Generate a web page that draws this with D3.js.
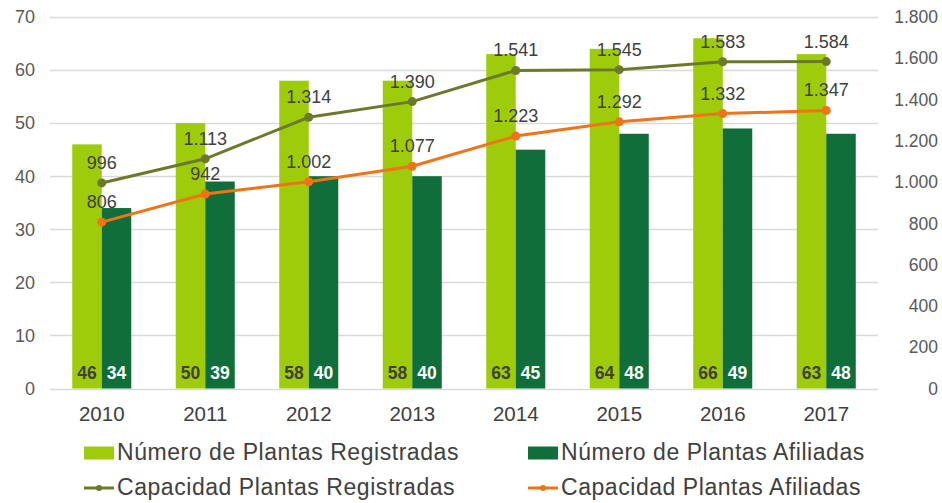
<!DOCTYPE html>
<meta charset="utf-8">
<script src="https://d3js.org/d3.v7.min.js"></script>
<style>
  body { margin: 0; background: #fff; }
  text { font-family: "Liberation Sans", Arial, sans-serif; }
</style>
<div id="chart"></div>
<script>
// data
var years = ["2010", "2011", "2012", "2013", "2014", "2015", "2016", "2017"];
var plantasRegistradas = [46, 50, 58, 58, 63, 64, 66, 63];
var plantasAfiliadas = [34, 39, 40, 40, 45, 48, 49, 48];
var capacidadRegistradas = [996, 1113, 1314, 1390, 1541, 1545, 1583, 1584];
var capacidadAfiliadas = [806, 942, 1002, 1077, 1223, 1292, 1332, 1347];
var leftTicks = [0, 10, 20, 30, 40, 50, 60, 70];
var rightTicks = [0, 200, 400, 600, 800, 1000, 1200, 1400, 1600, 1800];

var width = 942, height = 503;
var plot = {left: 50, right: 878, top: 17, bottom: 388.5};

var cLight = "#9ecb0a", cDark = "#0f6e3a", cOlive = "#6b7a2a", cOrange = "#f07318";

var svg = d3.select("#chart").append("svg")
  .attr("width", width)
  .attr("height", height);

var x = d3.scaleBand().domain(years).range([plot.left, plot.right]);
var xIn = d3.scaleBand().domain(["r", "a"]).range([-29.5, 29.5]);
var yL = d3.scaleLinear().domain([0, 70]).range([plot.bottom, plot.top]);
var yR = d3.scaleLinear().domain([0, 1800]).range([plot.bottom, plot.top]);

// format 1.113 style
var fmt = function(v) { return d3.format(",")(v).replace(/,/g, "."); };

// gridlines
svg.append("g").selectAll("line")
  .data(leftTicks)
  .enter().append("line")
    .attr("x1", plot.left).attr("x2", plot.right)
    .attr("y1", function(d) { return Math.round(yL(d)) + 0.5; })
    .attr("y2", function(d) { return Math.round(yL(d)) + 0.5; })
    .attr("stroke", "#d9d9d9").attr("stroke-width", 1.3);

// left axis labels
svg.append("g").selectAll("text")
  .data(leftTicks)
  .enter().append("text")
    .attr("x", 35).attr("y", function(d) { return yL(d); })
    .attr("dy", "0.35em")
    .attr("text-anchor", "end")
    .attr("fill", "#595959").style("font-size", "18px")
    .text(function(d) { return d; });

// right axis labels
svg.append("g").selectAll("text")
  .data(rightTicks)
  .enter().append("text")
    .attr("x", 938).attr("y", function(d) { return yR(d); })
    .attr("dy", "0.35em")
    .attr("text-anchor", "end")
    .attr("fill", "#595959").style("font-size", "17.5px")
    .text(function(d) { return d === 0 ? "0" : fmt(d); });

// x labels
svg.append("g").selectAll("text")
  .data(years)
  .enter().append("text")
    .attr("x", function(d) { return x(d) + x.bandwidth() / 2; })
    .attr("y", 421)
    .attr("text-anchor", "middle")
    .attr("fill", "#404040").style("font-size", "20.5px")
    .text(function(d) { return d; });

// bars
var groups = svg.append("g").selectAll("g")
  .data(years)
  .enter().append("g")
    .attr("transform", function(d) { return "translate(" + (x(d) + x.bandwidth() / 2) + ",0)"; });

groups.append("rect")
  .attr("x", xIn("r")).attr("width", xIn.bandwidth())
  .attr("y", function(d, i) { return yL(plantasRegistradas[i]); })
  .attr("height", function(d, i) { return plot.bottom - yL(plantasRegistradas[i]); })
  .attr("fill", cLight);

groups.append("rect")
  .attr("x", xIn("a")).attr("width", xIn.bandwidth())
  .attr("y", function(d, i) { return yL(plantasAfiliadas[i]); })
  .attr("height", function(d, i) { return plot.bottom - yL(plantasAfiliadas[i]); })
  .attr("fill", cDark);

groups.append("text")
  .attr("x", xIn("r") + xIn.bandwidth() / 2).attr("y", 379)
  .attr("text-anchor", "middle")
  .attr("fill", "#404040").style("font-size", "17.5px").style("font-weight", "bold")
  .text(function(d, i) { return plantasRegistradas[i]; });

groups.append("text")
  .attr("x", xIn("a") + xIn.bandwidth() / 2).attr("y", 379)
  .attr("text-anchor", "middle")
  .attr("fill", "#ffffff").style("font-size", "17.5px").style("font-weight", "bold")
  .text(function(d, i) { return plantasAfiliadas[i]; });

// lines
var cx = function(d, i) { return x(years[i]) + x.bandwidth() / 2; };

function drawLine(values, color) {
  var line = d3.line().x(cx).y(function(d) { return yR(d); });
  svg.append("path")
    .datum(values)
    .attr("d", line)
    .attr("fill", "none")
    .attr("stroke", color)
    .attr("stroke-width", 3);
  svg.append("g").selectAll("circle")
    .data(values)
    .enter().append("circle")
      .attr("cx", cx).attr("cy", function(d) { return yR(d); })
      .attr("r", 4.5)
      .attr("fill", color);
  svg.append("g").selectAll("text")
    .data(values)
    .enter().append("text")
      .attr("x", cx).attr("y", function(d) { return yR(d) - 14; })
      .attr("text-anchor", "middle")
      .attr("fill", "#404040").style("font-size", "18px")
      .text(function(d) { return fmt(d); });
}
drawLine(capacidadRegistradas, cOlive);
drawLine(capacidadAfiliadas, cOrange);

// legend
var legend = [
  {label: "Número de Plantas Registradas", color: cLight, type: "rect", x: 84, y: 452},
  {label: "Número de Plantas Afiliadas", color: cDark, type: "rect", x: 528, y: 452},
  {label: "Capacidad Plantas Registradas", color: cOlive, type: "line", x: 84, y: 487},
  {label: "Capacidad Plantas Afiliadas", color: cOrange, type: "line", x: 528, y: 487}
];

var lg = svg.append("g").selectAll("g")
  .data(legend)
  .enter().append("g")
    .attr("transform", function(d) { return "translate(" + d.x + "," + d.y + ")"; });

lg.filter(function(d) { return d.type === "rect"; })
  .append("rect")
    .attr("x", 0).attr("y", -5.5).attr("width", 30).attr("height", 13)
    .attr("fill", function(d) { return d.color; });

lg.filter(function(d) { return d.type === "line"; })
  .append("line")
    .attr("x1", 0).attr("x2", 30).attr("y1", 1).attr("y2", 1)
    .attr("stroke", function(d) { return d.color; }).attr("stroke-width", 3);

lg.filter(function(d) { return d.type === "line"; })
  .append("circle")
    .attr("cx", 15).attr("cy", 1).attr("r", 3)
    .attr("fill", function(d) { return d.color; });

lg.append("text")
  .attr("x", 33).attr("y", 0).attr("dy", "0.35em")
  .attr("fill", "#404040").style("font-size", "23px")
  .style("letter-spacing", "0.55px")
  .text(function(d) { return d.label; });
</script>
